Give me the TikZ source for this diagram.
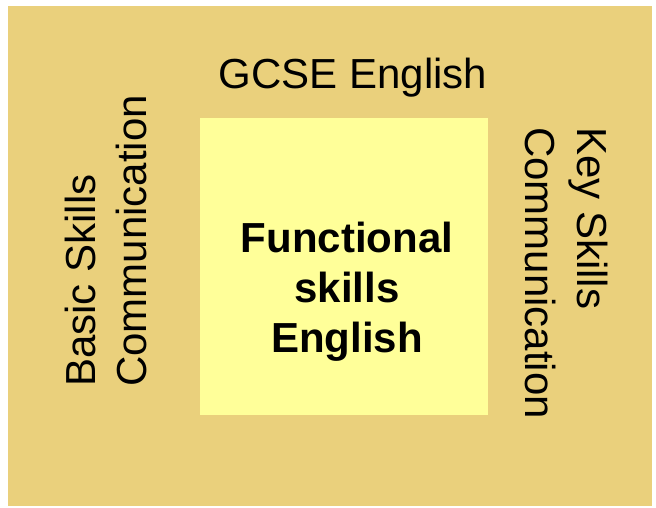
\documentclass[tikz,border=0pt]{standalone}
\usepackage{fontspec}
\setmainfont{Liberation Sans}
\usepackage{xcolor}
\definecolor{sand}{RGB}{234,208,124}
\definecolor{pale}{RGB}{255,255,153}
\tikzset{
	label text/.style={inner sep=0pt,font=\fontsize{42}{50}\selectfont},
	core text/.style={label text,font=\fontsize{42}{50}\selectfont\bfseries,anchor=base}
}

\begin{document}
\begin{tikzpicture}[x=1pt,y=-1pt]
	\useasboundingbox (0,0) rectangle (656,508);
	\fill[white] (0,0) rectangle (656,508);
	\fill[sand] (8,6) rectangle (652,506);
	\fill[pale] (200,118) rectangle (488,415);
	% top
	\node[label text,anchor=base] (gcse) at (353,89) {GCSE English};
	% centre
	\node[core text] (func) at (347,252) {Functional};
	\node[core text] (skills) at (347,302) {skills};
	\node[core text] (eng) at (347,352) {English};
	% left
	\node[label text,rotate=90,anchor=base west] (basic) at (95,387) {Basic Skills};
	\node[label text,rotate=90,anchor=base west] (comm l) at (146,387) {Communication};
	% right
	\node[label text,rotate=-90,anchor=base west] (key) at (577,127) {Key Skills};
	\node[label text,rotate=-90,anchor=base west] (comm r) at (525.5,127) {Communication};
\end{tikzpicture}
\end{document}
